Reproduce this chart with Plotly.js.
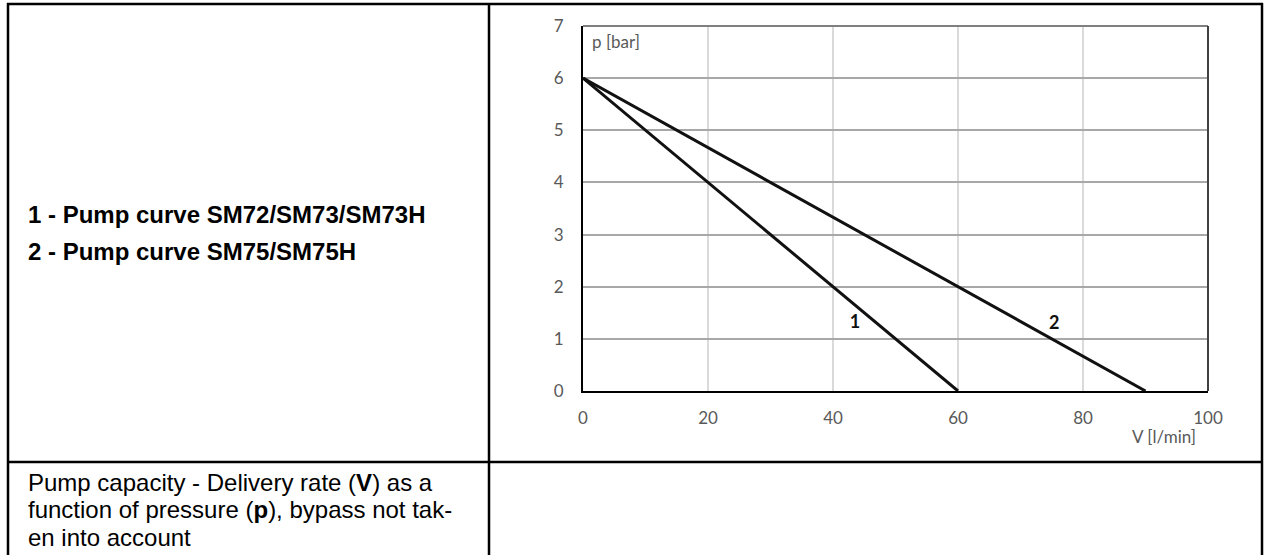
<!DOCTYPE html>
<html>
<head>
<meta charset="utf-8">
<script src="https://cdn.plot.ly/plotly-3.0.1.min.js"></script>
<style>
  html, body { margin: 0; padding: 0; background: #ffffff; }
  #chart { width: 1264px; height: 555px; }
</style>
</head>
<body>
<div id="chart"></div>
<script>
// ---- data ----
const flowRate1 = [0, 60];          // V [l/min], curve 1
const pressure1 = [6, 0];           // p [bar], curve 1
const flowRate2 = [0, 90];          // V [l/min], curve 2
const pressure2 = [6, 0];           // p [bar], curve 2
const curveLabels = ['1', '2'];
const labelFlow = [43.5, 75.4];
const labelPressure = [1.3, 1.27];
const xTickVals = [0, 20, 40, 60, 80, 100];
const yTickVals = [0, 1, 2, 3, 4, 5, 6, 7];
const xAxisLabel = 'V [l/min]';
const yAxisLabel = 'p [bar]';
const legendLines = ['1 - Pump curve SM72/SM73/SM73H', '2 - Pump curve SM75/SM75H'];
const captionLines = [
  'Pump capacity - Delivery rate (<b>V</b>) as a',
  'function of pressure (<b>p</b>), bypass not tak-',
  'en into account'
];

// ---- geometry helpers (pixel -> paper) ----
const W = 1264, H = 555;
const M = { l: 583, r: 56, t: 26, b: 164 };
const PW = W - M.l - M.r, PH = H - M.t - M.b;
const px = x => (x - M.l) / PW;
const py = y => (H - M.b - y) / PH;

const chartFont = 'Lato, "Open Sans", sans-serif';
const textFont = '"Liberation Sans", Arial, sans-serif';

const traces = [
  { x: flowRate1, y: pressure1, mode: 'lines', line: { color: '#111111', width: 3 }, hoverinfo: 'skip' },
  { x: flowRate2, y: pressure2, mode: 'lines', line: { color: '#111111', width: 3 }, hoverinfo: 'skip' },
  { x: labelFlow, y: labelPressure, mode: 'text', text: curveLabels,
    textfont: { family: chartFont, size: 18, color: '#111111', weight: 'bold' }, hoverinfo: 'skip' }
];

const border = { color: '#000000', width: 2.5 };
const shapes = [
  // plot frame top/right
  { type: 'line', xref: 'paper', yref: 'paper', x0: 0, x1: 1, y0: 1, y1: 1, line: { color: '#808080', width: 2 } },
  { type: 'line', xref: 'paper', yref: 'paper', x0: 1, x1: 1, y0: 0, y1: 1, line: { color: '#404040', width: 2 } },
  // table borders
  { type: 'line', xref: 'paper', yref: 'paper', x0: px(7), x1: px(1263), y0: py(4), y1: py(4), line: border },
  { type: 'line', xref: 'paper', yref: 'paper', x0: px(8), x1: px(8), y0: py(3), y1: py(560), line: border },
  { type: 'line', xref: 'paper', yref: 'paper', x0: px(1262), x1: px(1262), y0: py(3), y1: py(560), line: border },
  { type: 'line', xref: 'paper', yref: 'paper', x0: px(489), x1: px(489), y0: py(3), y1: py(560), line: border },
  { type: 'line', xref: 'paper', yref: 'paper', x0: px(7), x1: px(1263), y0: py(462), y1: py(462), line: border }
];

const annotations = [
  { xref: 'paper', yref: 'paper', x: px(590), y: py(41), xanchor: 'left', yanchor: 'middle',
    text: yAxisLabel, showarrow: false, font: { family: chartFont, size: 17, color: '#595959' } },
  { xref: 'paper', yref: 'paper', x: px(1198), y: py(436), xanchor: 'right', yanchor: 'middle',
    text: xAxisLabel, showarrow: false, font: { family: chartFont, size: 17, color: '#595959' } }
];
const legendY = [214, 251];
legendLines.forEach((t, i) => annotations.push({
  xref: 'paper', yref: 'paper', x: px(26), y: py(legendY[i]), xanchor: 'left', yanchor: 'middle',
  text: '<b>' + t + '</b>', showarrow: false, font: { family: textFont, size: 24, color: '#000000' }
}));
const captionY = [482, 510, 537];
captionLines.forEach((t, i) => annotations.push({
  xref: 'paper', yref: 'paper', x: px(26), y: py(captionY[i]), xanchor: 'left', yanchor: 'middle',
  text: t, showarrow: false, font: { family: textFont, size: 24, color: '#000000' }
}));

const layout = {
  width: W, height: H,
  margin: M,
  paper_bgcolor: '#ffffff', plot_bgcolor: '#ffffff',
  showlegend: false,
  xaxis: {
    range: [0, 100], tickvals: xTickVals, ticktext: xTickVals.map(String),
    showgrid: true, gridcolor: '#dadada', gridwidth: 1.5,
    zeroline: false, showline: true, linecolor: '#000000', linewidth: 2,
    ticks: '', ticklabelstandoff: 11,
    tickfont: { family: chartFont, size: 17, color: '#595959' }, fixedrange: true
  },
  yaxis: {
    range: [0, 7], tickvals: yTickVals, ticktext: yTickVals.map(String),
    showgrid: true, gridcolor: '#a8a8a8', gridwidth: 2,
    zeroline: false, showline: true, linecolor: '#000000', linewidth: 2,
    ticks: '', ticklabelstandoff: 14,
    tickfont: { family: chartFont, size: 17, color: '#595959' }, fixedrange: true
  },
  shapes: shapes,
  annotations: annotations
};

Plotly.newPlot('chart', traces, layout, { staticPlot: true, displayModeBar: false });
</script>
</body>
</html>
